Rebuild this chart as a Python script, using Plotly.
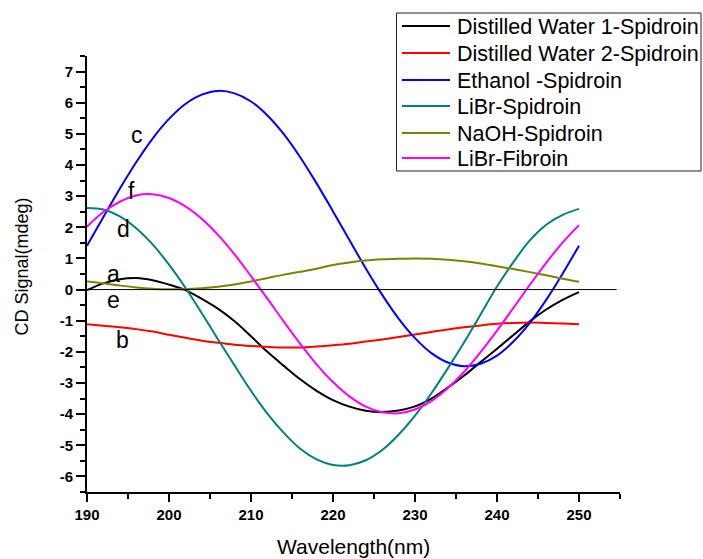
import plotly.graph_objects as go

wavelength = list(range(190, 252, 2))

water1 = [-0.02, 0.20, 0.33, 0.37, 0.30, 0.16, -0.02, -0.30, -0.62, -1.02, -1.50,
          -2.00, -2.45, -2.88, -3.25, -3.55, -3.76, -3.89, -3.93, -3.88, -3.75,
          -3.50, -3.15, -2.76, -2.33, -1.90, -1.46, -1.02, -0.64, -0.33, -0.08]
water2 = [-1.11, -1.16, -1.21, -1.27, -1.35, -1.45, -1.55, -1.64, -1.71, -1.77, -1.81,
          -1.84, -1.86, -1.86, -1.83, -1.79, -1.74, -1.67, -1.60, -1.52, -1.44,
          -1.36, -1.28, -1.21, -1.15, -1.10, -1.07, -1.06, -1.07, -1.09, -1.11]
ethanol = [1.41, 2.33, 3.24, 4.09, 4.85, 5.48, 5.96, 6.26, 6.38, 6.30, 6.04,
           5.59, 4.99, 4.25, 3.41, 2.51, 1.59, 0.68, -0.17, -0.93, -1.56,
           -2.04, -2.34, -2.46, -2.38, -2.12, -1.67, -1.07, -0.33, 0.51, 1.41]
libr_spid = [2.62, 2.57, 2.35, 1.97, 1.45, 0.80, 0.06, -0.76, -1.61, -2.44, -3.25,
             -3.98, -4.60, -5.11, -5.45, -5.63, -5.64, -5.48, -5.15, -4.66, -4.05,
             -3.33, -2.53, -1.69, -0.80, 0.10, 0.88, 1.58, 2.08, 2.40, 2.59]
naoh = [0.26, 0.20, 0.13, 0.07, 0.03, 0.01, 0.01, 0.04, 0.09, 0.16, 0.26,
        0.37, 0.48, 0.57, 0.67, 0.79, 0.87, 0.93, 0.97, 0.99, 1.00,
        0.99, 0.96, 0.91, 0.84, 0.75, 0.66, 0.56, 0.46, 0.35, 0.25]
libr_fib = [2.02, 2.49, 2.82, 3.02, 3.06, 2.94, 2.67, 2.27, 1.75, 1.13, 0.43,
            -0.29, -1.03, -1.74, -2.40, -2.97, -3.43, -3.76, -3.94, -3.97, -3.85,
            -3.58, -3.17, -2.64, -2.01, -1.32, -0.59, 0.15, 0.86, 1.51, 2.07]

series_names = ["Distilled Water 1-Spidroin", "Distilled Water 2-Spidroin",
                "Ethanol -Spidroin", "LiBr-Spidroin", "NaOH-Spidroin", "LiBr-Fibroin"]
series_values = [water1, water2, ethanol, libr_spid, naoh, libr_fib]
series_colors = ["#000000", "#ff0000", "#0000ff", "#008080", "#808000", "#ff00ff"]

label_text = ["a", "b", "c", "d", "e", "f"]
label_x = [193.2, 194.35, 196.1, 194.4, 193.2, 195.4]
label_y = [0.49, -1.63, 4.96, 1.93, -0.32, 3.17]

x_ticks = [190, 200, 210, 220, 230, 240, 250]
y_ticks = [-6, -5, -4, -3, -2, -1, 0, 1, 2, 3, 4, 5, 6, 7]

FONT = "Liberation Sans, Arial, Helvetica, sans-serif"

# plot-area geometry in pixels (for paper-coordinate placement)
PL, PR, PT, PB = 87, 620, 56, 492
W, H = 703, 559


def px(xp):
    return (xp - PL) / (PR - PL)


def py(yp):
    return (PB - yp) / (PB - PT)


fig = go.Figure()
for name, vals, col in zip(series_names, series_values, series_colors):
    fig.add_trace(go.Scatter(x=wavelength, y=vals, mode="lines", name=name,
                             showlegend=False,
                             line=dict(color=col, width=2, shape="spline", smoothing=1)))

fig.add_shape(type="line", xref="x", yref="y", x0=190, x1=254.6, y0=0, y1=0,
              line=dict(color="black", width=1), layer="above")

for t, lx, ly in zip(label_text, label_x, label_y):
    fig.add_annotation(x=lx, y=ly, text=t, showarrow=False,
                       font=dict(family=FONT, size=23, color="black"),
                       xanchor="center", yanchor="middle")

# legend drawn by hand: box, line samples, names
fig.add_shape(type="rect", xref="paper", yref="paper",
              x0=px(396.5), x1=px(701), y0=py(13), y1=py(171),
              line=dict(color="#222222", width=1), fillcolor="white", layer="above")
row_y = [26, 53, 80, 106, 133, 158]
for name, col, ry in zip(series_names, series_colors, row_y):
    fig.add_shape(type="line", xref="paper", yref="paper",
                  x0=px(402), x1=px(450), y0=py(ry), y1=py(ry),
                  line=dict(color=col, width=2), layer="above")
    fig.add_annotation(xref="paper", yref="paper", x=px(455), y=py(ry + 1), text=name,
                       showarrow=False, xanchor="left", yanchor="middle",
                       font=dict(family=FONT, size=21.5, color="black"))

fig.add_annotation(xref="paper", yref="paper", x=px(353.5), y=py(546),
                   text="Wavelength(nm)", showarrow=False,
                   font=dict(family=FONT, size=21, color="black"),
                   xanchor="center", yanchor="middle")
fig.add_annotation(xref="paper", yref="paper", x=px(21), y=py(266.5),
                   text="CD Signal(mdeg)", showarrow=False, textangle=-90,
                   font=dict(family=FONT, size=18, color="black"),
                   xanchor="center", yanchor="middle")

axis_common = dict(showgrid=False, zeroline=False, showline=True, linecolor="black",
                   linewidth=2, ticks="outside", tickcolor="black", tickwidth=1.5,
                   tickfont=dict(family=FONT, size=15, color="black"))

fig.update_xaxes(range=[190, 255], tickmode="array", tickvals=x_ticks,
                 ticktext=["<b>%d</b>" % v for v in x_ticks], ticklen=8,
                 minor=dict(ticks="outside", dtick=5, tick0=190, ticklen=5,
                            tickcolor="black", tickwidth=1.5),
                 **axis_common)
fig.update_yaxes(range=[-6.5, 7.5], tickmode="array", tickvals=y_ticks,
                 ticktext=["<b>%d</b>" % v for v in y_ticks], ticklen=9,
                 minor=dict(ticks="outside", dtick=0.5, tick0=0, ticklen=5,
                            tickcolor="black", tickwidth=1.5),
                 **axis_common)

fig.update_layout(
    width=W, height=H,
    margin=dict(l=PL, r=W - PR, t=PT, b=H - PB),
    plot_bgcolor="white", paper_bgcolor="white",
    font=dict(family=FONT, color="black"),
    showlegend=False,
)

fig.write_html("out.html")
